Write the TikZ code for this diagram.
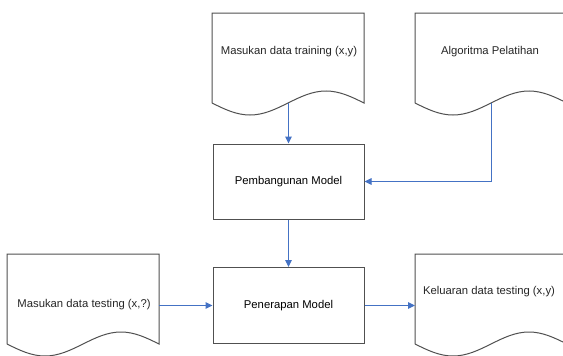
\documentclass[tikz,border=0pt]{standalone}
\usepackage{fontspec}
\setmainfont{Liberation Sans}
\usepackage{tikz}
\usetikzlibrary{arrows.meta}
\definecolor{garis}{HTML}{505050}
\definecolor{panah}{HTML}{4472C4}
\tikzset{
	docline/.style={line width=1pt, color=garis},
	prosesbox/.style={draw=garis, line width=1pt, minimum width=151pt, minimum height=75pt, inner sep=0pt},
	doctext/.style={inner sep=0pt, text=black!85},
	flow/.style={line width=1pt, color=panah, -{Triangle[length=7pt,width=6.5pt]}}
}
\def\dokumen(#1,#2){\draw[docline] (#1,#2+90) -- (#1,#2) -- ++(152,0) -- ++(0,90) sin ++(-38,-12) cos ++(-38,12) sin ++(-38,12) cos ++(-38,-12);}

\begin{document}
\begin{tikzpicture}[x=1pt, y=-1pt, font=\fontsize{11.3}{13}\selectfont]
		%%%%% START %%%%%
		
		\useasboundingbox (0,0) rectangle (563,356);
		\fill[white] (0,0) rectangle (563,356);
		\clip (0,0) rectangle (563,356);
		
		\dokumen(212,13);
		\node[doctext] (latih) at (289,52) {Masukan data training (x,y)};
		\coordinate (latih-out) at (288.5,103);
		
		\dokumen(415,13);
		\node[doctext] (algo) at (490,52) {Algoritma Pelatihan};
		\coordinate (algo-out) at (491,103);
		
		\dokumen(7,254);
		\node[doctext] (uji) at (84,305) {Masukan data testing (x,?)};
		\coordinate (uji-out) at (159,305.5);
		
		\dokumen(415,254);
		\node[doctext] (hasil) at (489,292) {Keluaran data testing (x,y)};
		\coordinate (hasil-in) at (415,305.5);
		
		\node[prosesbox] (bangun) at (288.5,181.5) {Pembangunan Model};
		\node[prosesbox, minimum height=76pt] (terap) at (288.5,305.5) {Penerapan Model};
		
		\draw[flow] (latih-out) -- (latih-out |- bangun.north);
		\draw[flow] (algo-out) |- (bangun.east);
		\draw[flow] (bangun) -- (terap);
		\draw[flow] (uji-out) -- (uji-out -| terap.west);
		\draw[flow] (terap.east) -- (hasil-in);
		
		%%%%% END %%%%%
\end{tikzpicture}
\end{document}
